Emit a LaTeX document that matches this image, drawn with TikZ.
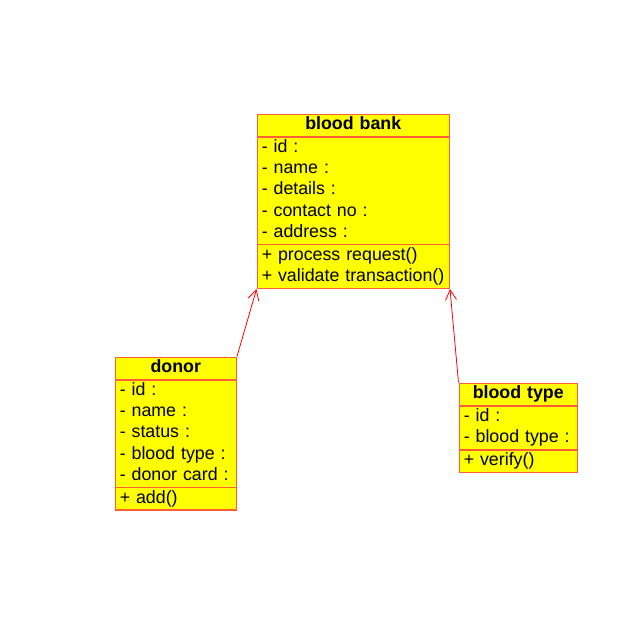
\documentclass[tikz,border=0pt]{standalone}
\usepackage{fontspec}
\setmainfont{Liberation Sans}
\usetikzlibrary{shapes.multipart,arrows.meta}
\definecolor{classline}{RGB}{255,95,55}
\definecolor{classfill}{RGB}{255,255,0}
\definecolor{assocline}{RGB}{255,0,0}
\tikzset{
  umlclass/.style={draw=classline, line width=1.5pt, fill=classfill,
    rectangle split, rectangle split parts=3, inner xsep=4.5pt, inner ysep=0pt,
    anchor=north west, align=left, font=\fontsize{17.8}{21.2}\selectfont},
  assoc/.style={draw=assocline, line width=0.8pt, -{Straight Barb[length=10pt,width=11pt]}}
}
\begin{document}
\begin{tikzpicture}[x=1pt,y=-1pt]
    \useasboundingbox (0,0) rectangle (642,619); % margini
    % classe blood bank
    \node [umlclass, text width=183pt] (bank) at (256.5,113.5)
      {\hfill\strut\textbf{blood bank}\hfill\null
       \nodepart{two}\strut- id :\\ \strut- name :\\ \strut- details :\\ \strut- contact no :\\ \strut- address :
       \nodepart{three}\strut+ process request()\\ \strut+ validate transaction()};
    % classe donor
    \node [umlclass, text width=112pt] (donor) at (114.5,356.5)
      {\hfill\strut\textbf{donor}\hfill\null
       \nodepart{two}\strut- id :\\ \strut- name :\\ \strut- status :\\ \strut- blood type :\\ \strut- donor card :
       \nodepart{three}\strut+ add()};
    % classe blood type
    \node [umlclass, text width=109pt] (type) at (458.5,382.5)
      {\hfill\strut\textbf{blood type}\hfill\null
       \nodepart{two}\strut- id :\\ \strut- blood type :
       \nodepart{three}\strut+ verify()};
    % associazioni
    \draw [assoc] (donor.north east) -- (bank.south west);
    \draw [assoc] (type.north west) -- (bank.south east);
  \end{tikzpicture}
\end{document}
